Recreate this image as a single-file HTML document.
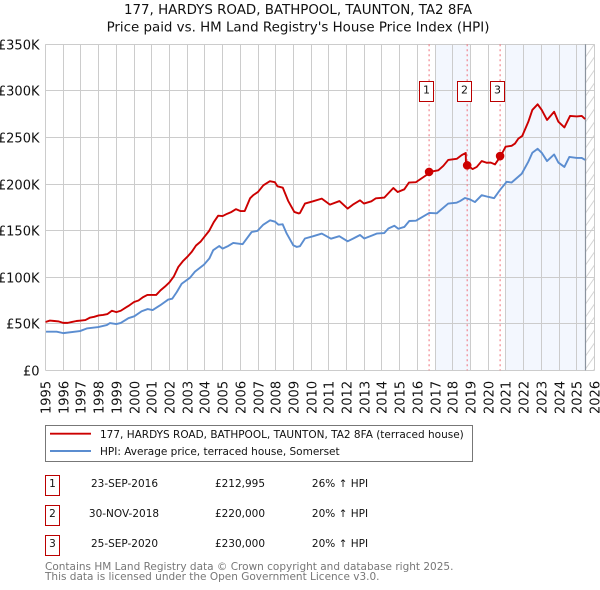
<!DOCTYPE html>
<html lang="en">
<head>
<meta charset="utf-8">
<title>177, Hardys Road price paid vs. HPI</title>
<style>
html,body{margin:0;padding:0;background:#fff;width:600px;height:590px;overflow:hidden}
svg{display:block;font-family:"DejaVu Sans","Liberation Sans",sans-serif}
</style>
</head>
<body>
<svg id="chart" width="600" height="590" viewBox="0 0 600 590" xmlns="http://www.w3.org/2000/svg">
  <defs>
    <pattern id="hatch" width="9" height="13" patternUnits="userSpaceOnUse" x="585.5" y="44">
      <line x1="0" y1="13" x2="9" y2="0" stroke="#d4d4d4" stroke-width="1"/>
    </pattern>
    <clipPath id="plot-clip"><rect x="45.5" y="44" width="549" height="326.5"/></clipPath>
  </defs>
  <rect width="600" height="590" fill="#fff"/>
  <text x="298" y="14" font-size="13.4" text-anchor="middle" fill="#111">177, HARDYS ROAD, BATHPOOL, TAUNTON, TA2 8FA</text>
  <text x="298" y="31.5" font-size="13.4" text-anchor="middle" fill="#111">Price paid vs. HM Land Registry's House Price Index (HPI)</text>
  <g id="bands"></g>
  <g id="grid"></g>
  <g id="axis-labels"></g>
  <g id="vlines"></g>
  <g id="series" clip-path="url(#plot-clip)"></g>
  <g id="markers"></g>
  <g id="flags"></g>

  <g>
    <rect x="45.5" y="425.5" width="427" height="36" fill="#fff" stroke="#777" stroke-width="1"/>
    <line x1="50" y1="433.7" x2="91" y2="433.7" stroke="#cc0000" stroke-width="1.9"/>
    <text x="100" y="438" font-size="10.5" fill="#111">177, HARDYS ROAD, BATHPOOL, TAUNTON, TA2 8FA (terraced house)</text>
    <line x1="50" y1="451" x2="91" y2="451" stroke="#5b8dd0" stroke-width="1.9"/>
    <text x="100" y="455" font-size="10.5" fill="#111">HPI: Average price, terraced house, Somerset</text>
  </g>

  <g font-size="10.5" fill="#111">
    <rect x="45.5" y="475.5" width="14" height="20" fill="#fff" stroke="#bb0000" stroke-width="1"/>
    <text x="52.5" y="487" text-anchor="middle">1</text>
    <text x="124.5" y="487" text-anchor="middle">23-SEP-2016</text>
    <text x="240" y="487" text-anchor="middle">£212,995</text>
    <text x="340" y="487" text-anchor="middle">26% ↑ HPI</text>

    <rect x="45.5" y="505.5" width="14" height="20" fill="#fff" stroke="#bb0000" stroke-width="1"/>
    <text x="52.5" y="517" text-anchor="middle">2</text>
    <text x="124" y="517" text-anchor="middle">30-NOV-2018</text>
    <text x="240" y="517" text-anchor="middle">£220,000</text>
    <text x="340" y="517" text-anchor="middle">20% ↑ HPI</text>

    <rect x="45.5" y="535.5" width="14" height="20" fill="#fff" stroke="#bb0000" stroke-width="1"/>
    <text x="52.5" y="547" text-anchor="middle">3</text>
    <text x="124.5" y="547" text-anchor="middle">25-SEP-2020</text>
    <text x="240" y="547" text-anchor="middle">£230,000</text>
    <text x="340" y="547" text-anchor="middle">20% ↑ HPI</text>
  </g>

  <text x="45" y="570" font-size="10.5" fill="#777">Contains HM Land Registry data © Crown copyright and database right 2025.</text>
  <text x="45" y="580" font-size="10.5" fill="#777">This data is licensed under the Open Government Licence v3.0.</text>
</svg>

<script>
const xTickYears = [1995,1996,1997,1998,1999,2000,2001,2002,2003,2004,2005,2006,2007,2008,2009,2010,2011,2012,2013,2014,2015,2016,2017,2018,2019,2020,2021,2022,2023,2024,2025,2026];
const yTickValues = [0,50,100,150,200,250,300,350];
const yTickLabels = ["£0","£50K","£100K","£150K","£200K","£250K","£300K","£350K"];

const priceYears = [1995,1995.25,1995.5,1995.75,1996,1996.25,1996.5,1996.75,1997,1997.25,1997.5,1997.75,1998,1998.25,1998.5,1998.75,1999,1999.25,1999.5,1999.75,2000,2000.25,2000.5,2000.75,2001,2001.25,2001.5,2001.75,2002,2002.25,2002.5,2002.75,2003,2003.25,2003.5,2003.75,2004,2004.25,2004.5,2004.75,2005,2005.25,2005.5,2005.75,2006,2006.25,2006.55,2006.73,2007,2007.3,2007.67,2007.95,2008.1,2008.4,2008.7,2009.05,2009.3,2009.37,2009.65,2010.1,2010.6,2011.06,2011.6,2012.06,2012.36,2012.76,2012.98,2013.4,2013.66,2014.13,2014.64,2014.89,2015.26,2015.52,2015.92,2016.62,2016.68,2017.18,2017.46,2017.74,2018.22,2018.5,2018.73,2018.74,2018.83,2019.12,2019.35,2019.63,2019.91,2020.14,2020.38,2020.69,2020.98,2021.32,2021.51,2021.7,2021.92,2022.26,2022.49,2022.79,2023.02,2023.32,2023.72,2023.96,2024.3,2024.62,2025,2025.28,2025.47];
const priceValues = [52,53.5,53,52.5,51,51,52,53,53.5,54,56.5,57.5,59,59.5,60.5,64,62.5,64,67,70,73.4,75,78.5,81,81,81,86,90,94.5,101,111,117,121.7,127,134,138,144,150,159,166,165.6,168,170,173,171,171,184.6,188,191.5,198.6,203,202,197.5,196,182,170,168.4,168.9,179,181.4,184.3,177.9,181.7,173.6,177.9,182.5,179,181.4,184.7,185.4,195.7,191.4,194.3,201.5,202,211,213,214.7,219.4,225.8,227,231,233.3,222,220,216,218.3,224.6,222.8,223,221,229.6,240,241,243.4,248.7,251.6,266.6,279.5,285.5,279.5,268.7,277.5,266.8,260.7,273,272.5,273,269.7];

const hpiYears = [1995.03,1995.63,1996,1996.95,1997.33,1997.98,1998.46,1998.64,1999,1999.25,1999.68,2000.01,2000.43,2000.77,2001.05,2001.47,2001.93,2002.16,2002.41,2002.69,2003.16,2003.44,2003.95,2004.25,2004.47,2004.81,2005,2005.32,2005.6,2006.13,2006.64,2006.96,2007.3,2007.68,2007.96,2008.15,2008.39,2008.62,2008.99,2009.18,2009.37,2009.65,2010.12,2010.6,2011.12,2011.59,2012.06,2012.38,2012.76,2013,2013.42,2013.7,2014.13,2014.36,2014.7,2014.92,2015.26,2015.54,2015.92,2016.67,2017.09,2017.37,2017.74,2018.22,2018.41,2018.69,2018.97,2019.25,2019.63,2020,2020.33,2020.66,2021.04,2021.32,2021.89,2022.26,2022.49,2022.79,2023.02,2023.32,2023.72,2023.96,2024.3,2024.58,2025,2025.28,2025.47];
const hpiValues = [41.5,41.5,40,42.2,45,46.5,48.6,50.8,49.7,50.9,56,58,63.5,65.8,64.7,69.8,76,77,84,93,99.5,106,113.5,120,129,133.5,130.7,133.5,136.8,135.4,148.5,149.6,156.4,161,159.6,156.4,156.8,146.8,134.3,132.5,133.3,141.5,144,146.8,141.3,144,138.5,141.5,145.3,141.5,144.6,146.8,147.4,152.3,155.2,152,153.9,160.3,160.6,169,168.5,173,179,180,181.7,185,183.4,180.6,188,186.2,184.8,193.5,202.4,201.6,211,223.8,233.5,237.8,233.5,224.6,231.7,223,218.3,229,228,228,225.8];

const saleLabels = ["1","2","3"];
const saleYears = [2016.66,2018.81,2020.67];
const saleValues = [212.995,220,230];

const shadedRanges = [[2017,2019],[2021,2025.5]];
const forecastStart = 2025.5;
const forecastEnd = 2026;

const SVG_NS = 'http://www.w3.org/2000/svg';
function xPos(year){ return 45.5 + (year - 1995) * (549 / 31); }
function yPos(value){ return 370.4 - value * (326.2 / 350); }
function make(tag, attrs, parentId){
  const el = document.createElementNS(SVG_NS, tag);
  for (const k in attrs) el.setAttribute(k, attrs[k]);
  document.getElementById(parentId).appendChild(el);
  return el;
}
function crisp(v){ return Math.round(v - 0.5) + 0.5; }

shadedRanges.forEach(function(r){
  const band = make('rect', {x: xPos(r[0]), y: yPos(350), width: xPos(r[1]) - xPos(r[0]), height: yPos(0) - yPos(350), fill: '#f3f7fe'}, 'bands');
  
  
});
const hatchRect = make('rect', {x: xPos(forecastStart), y: yPos(350), width: xPos(forecastEnd) - xPos(forecastStart), height: yPos(0) - yPos(350), fill: 'url(#hatch)'}, 'bands');



xTickYears.forEach(function(year){
  const x = crisp(xPos(year));
  const line = make('line', {x1: x, x2: x, y1: yPos(350), y2: yPos(0), stroke: '#cccccc', 'stroke-width': 1}, 'grid');
  
  
  const label = make('text', {transform: 'translate(' + (x + 5) + ',414) rotate(-90)', 'font-size': 13, fill: '#111', 'text-anchor': 'start'}, 'axis-labels');
  label.textContent = String(year);
  
  
});
yTickValues.forEach(function(value, i){
  const y = crisp(yPos(value));
  const line = make('line', {x1: 45.5, x2: 594.5, y1: y, y2: y, stroke: '#cccccc', 'stroke-width': 1}, 'grid');
  
  
  const label = make('text', {x: 39.5, y: y + 4.8, 'font-size': 13, fill: '#111', 'text-anchor': 'end'}, 'axis-labels');
  label.textContent = yTickLabels[i];
  
  
});
const endLine = make('line', {x1: crisp(xPos(forecastStart)), x2: crisp(xPos(forecastStart)), y1: yPos(350), y2: yPos(0), stroke: '#8a939e', 'stroke-width': 1.2}, 'grid');



saleYears.forEach(function(year){
  const x = xPos(year);
  const line = make('line', {x1: x, x2: x, y1: yPos(350), y2: yPos(0), stroke: '#f0707a', 'stroke-width': 1, 'stroke-dasharray': '2 3'}, 'vlines');
  
  
});

function pathFor(xs, ys){
  return xs.map(function(year, i){ return (i ? 'L' : 'M') + xPos(year).toFixed(2) + ' ' + yPos(ys[i]).toFixed(2); }).join(' ');
}
const hpiPath = make('path', {d: pathFor(hpiYears, hpiValues), fill: 'none', stroke: '#5b8dd0', 'stroke-width': 1.9, 'stroke-linejoin': 'round'}, 'series');


const pricePath = make('path', {d: pathFor(priceYears, priceValues), fill: 'none', stroke: '#cc0000', 'stroke-width': 1.9, 'stroke-linejoin': 'round'}, 'series');



saleYears.forEach(function(year, i){
  const dot = make('circle', {cx: xPos(year), cy: yPos(saleValues[i]), r: 4.3, fill: '#cc0000'}, 'markers');
  
  
  const bx = crisp(xPos(year) - 10);
  const box = make('rect', {x: bx, y: 81.5, width: 14, height: 20, fill: '#fff', stroke: '#bb0000', 'stroke-width': 1}, 'flags');
  
  
  const txt = make('text', {x: bx + 7, y: 93.5, 'font-size': 11, fill: '#111', 'text-anchor': 'middle'}, 'flags');
  txt.textContent = saleLabels[i];
  
  
});
</script>
</body>
</html>
